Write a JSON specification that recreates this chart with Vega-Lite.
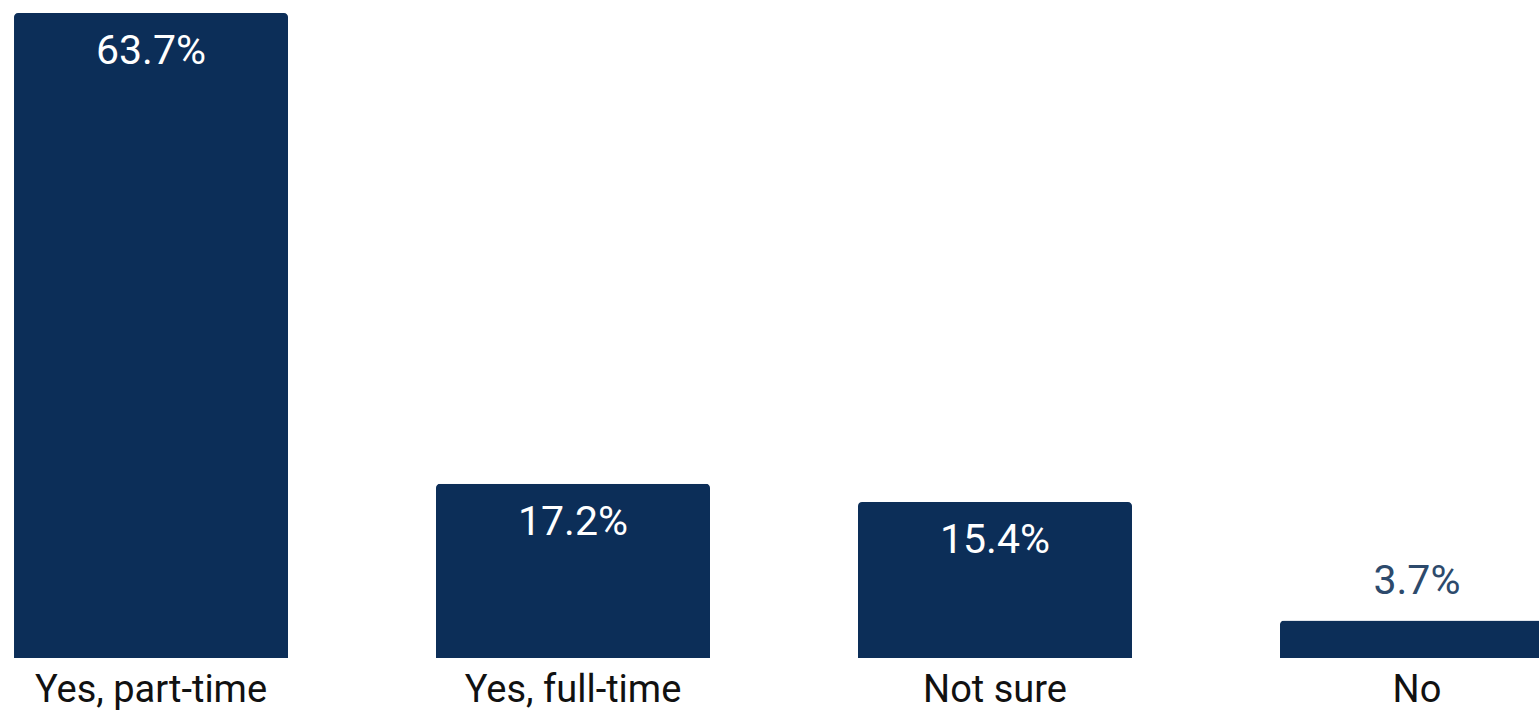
{
  "$schema": "https://vega.github.io/schema/vega-lite/v6.json",
  "width": 1539,
  "height": 645,
  "autosize": {"type": "none"},
  "padding": {"top": 13, "left": 0, "right": 0, "bottom": 54},
  "background": "white",
  "config": {"view": {"stroke": null}, "font": "Roboto"},
  "data": {
    "values": [
      {"answer": "Yes, part-time", "share": 0.637},
      {"answer": "Yes, full-time", "share": 0.172},
      {"answer": "Not sure", "share": 0.154},
      {"answer": "No", "share": 0.037}
    ]
  },
  "encoding": {
    "x": {
      "field": "answer",
      "type": "nominal",
      "sort": null,
      "scale": {"range": [0, 1568], "paddingInner": 0.3507, "paddingOuter": 0.0332},
      "axis": {
        "title": null,
        "domain": false,
        "ticks": false,
        "labelAngle": 0,
        "labelFont": "Roboto",
        "labelFontSize": 38,
        "labelColor": "#111111",
        "labelPadding": 13,
        "labelLimit": 600
      }
    },
    "y": {
      "field": "share",
      "type": "quantitative",
      "scale": {"domain": [0, 0.637], "nice": false},
      "axis": null
    }
  },
  "layer": [
    {
      "mark": {"type": "bar", "color": "#0c2e58", "cornerRadiusTopLeft": 4, "cornerRadiusTopRight": 4}
    },
    {
      "transform": [{"filter": "datum.share > 0.1"}],
      "mark": {"type": "text", "color": "white", "fontSize": 41, "baseline": "alphabetic", "dy": 51, "font": "Roboto"},
      "encoding": {"text": {"field": "share", "type": "quantitative", "format": ".1%"}}
    },
    {
      "transform": [{"filter": "datum.share <= 0.1"}],
      "mark": {"type": "text", "color": "#2d4a6c", "fontSize": 41, "baseline": "alphabetic", "dy": -27, "font": "Roboto"},
      "encoding": {"text": {"field": "share", "type": "quantitative", "format": ".1%"}}
    }
  ]
}
